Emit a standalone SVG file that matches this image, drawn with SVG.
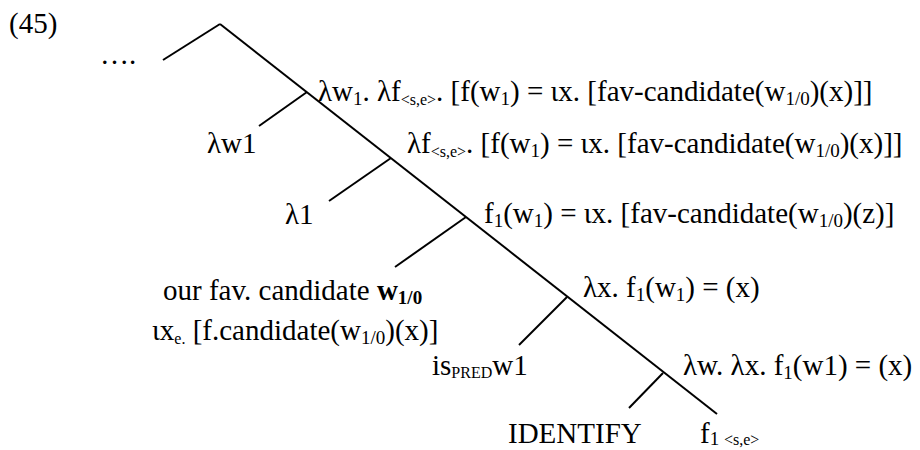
<svg xmlns="http://www.w3.org/2000/svg" width="920" height="450" viewBox="0 0 920 450">
<style>
text{font-family:"Liberation Serif","Times New Roman",serif;font-size:29px;fill:#000}
.s{font-size:19px}
.t{font-size:16px}
.b{font-weight:bold}
line{stroke:#000;stroke-width:2;stroke-linecap:butt}
</style>
<rect width="920" height="450" fill="#fff"/>
<g id="connectors">
<line x1="163" y1="60" x2="220" y2="24"/>
<line x1="220" y1="24" x2="717" y2="414"/>
<line x1="307" y1="92" x2="259" y2="126"/>
<line x1="391" y1="158" x2="329" y2="201"/>
<line x1="466" y1="217" x2="395" y2="267"/>
<line x1="567" y1="297" x2="519" y2="345"/>
<line x1="663" y1="373" x2="629" y2="408"/>
</g>
<g id="num"><text x="9" y="33">(45)</text></g>
<g id="dots"><text x="100" y="64">….</text></g>
<g id="n1"><text x="318" y="101">λw<tspan class="s" dy="4">1</tspan><tspan dy="-4">. λf</tspan><tspan class="t" dy="4">&lt;s,e&gt;</tspan><tspan dy="-4">. [f(w</tspan><tspan class="s" dy="4">1</tspan><tspan dy="-4">) = ιx. [fav-candidate(w</tspan><tspan class="s" dy="4">1/0</tspan><tspan dy="-4">)(x)]]</tspan></text></g>
<g id="n2"><text x="207" y="153">λw1</text></g>
<g id="n3"><text x="407" y="153">λf<tspan class="t" dy="4">&lt;s,e&gt;</tspan><tspan dy="-4">. [f(w</tspan><tspan class="s" dy="4">1</tspan><tspan dy="-4">) = ιx. [fav-candidate(w</tspan><tspan class="s" dy="4">1/0</tspan><tspan dy="-4">)(x)]]</tspan></text></g>
<g id="n4"><text x="285" y="224">λ1</text></g>
<g id="n5"><text x="484" y="223">f<tspan class="s" dy="4">1</tspan><tspan dy="-4">(w</tspan><tspan class="s" dy="4">1</tspan><tspan dy="-4">) = ιx. [fav-candidate(w</tspan><tspan class="s" dy="4">1/0</tspan><tspan dy="-4">)(z)]</tspan></text></g>
<g id="n6"><text x="163" y="300">our fav. candidate <tspan class="b">w</tspan><tspan class="s b" dy="4">1/0</tspan></text><text x="152" y="340">ιx<tspan class="t" dy="4">e.</tspan><tspan dy="-4"> [f.candidate(w</tspan><tspan class="s" dy="4">1/0</tspan><tspan dy="-4">)(x)]</tspan></text></g>
<g id="n7"><text x="583" y="297">λx. f<tspan class="s" dy="4">1</tspan><tspan dy="-4">(w</tspan><tspan class="s" dy="4">1</tspan><tspan dy="-4">) = (x)</tspan></text></g>
<g id="n8"><text x="432" y="375">is<tspan class="t" dy="3">PRED</tspan><tspan dy="-3">w1</tspan></text></g>
<g id="n9"><text x="683" y="375">λw. λx. f<tspan class="s" dy="4">1</tspan><tspan dy="-4">(w1) = (x)</tspan></text></g>
<g id="n10"><text x="508" y="443">IDENTIFY</text></g>
<g id="n11"><text x="700" y="443">f<tspan class="s" dy="2">1 </tspan><tspan class="t">&lt;s,e&gt;</tspan></text></g>
</svg>
